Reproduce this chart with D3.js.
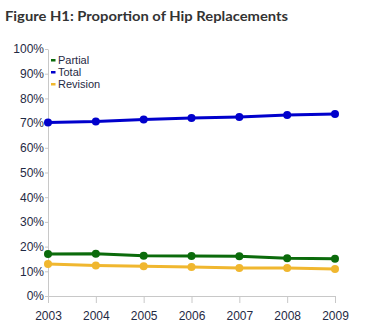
<!DOCTYPE html>
<html><head><meta charset="utf-8">
<script src="https://cdn.jsdelivr.net/npm/d3@7"></script>
<style>body{margin:0;background:#fff}svg{display:block}</style>
</head><body>
<svg id="c" width="373" height="336"></svg>
<script>
const years = ["2003","2004","2005","2006","2007","2008","2009"];
const partial = [17.0,17.1,16.3,16.2,16.1,15.3,15.1];
const total = [70.2,70.6,71.5,72.1,72.5,73.3,73.7];
const revision = [13.0,12.3,12.0,11.7,11.3,11.3,10.9];
const yTicks = [0,10,20,30,40,50,60,70,80,90,100];
const seriesNames = ["Partial","Total","Revision"];
const seriesColors = ["#0b6b0b","#0000cc","#f0b72f"];
const seriesData = [partial,total,revision];

const svg = d3.select("#c");
const x = d3.scalePoint().domain(years).range([48,335]);
const y = d3.scaleLinear().domain([0,100]).range([296,49]);
const font = "'Liberation Sans', Arial, sans-serif";

const title = svg.append("text").attr("x",5).attr("y",21).text("Figure H1: Proportion of Hip Replacements")
  .attr("font-family","Lato, sans-serif").attr("font-weight","bold").attr("font-size",13.5).attr("fill","#333");
const tw = title.node().getComputedTextLength();
if (tw > 0) title.attr("textLength",283).attr("lengthAdjust","spacingAndGlyphs");

// y axis
const ya = svg.append("g").attr("transform","translate(48,0)").call(d3.axisLeft(y).tickValues(yTicks).tickFormat(d=>d+"%").tickSize(3).tickSizeOuter(0));
ya.select(".domain").attr("stroke","#c8c8c8");
ya.selectAll(".tick line").attr("stroke","#c8c8c8");
ya.selectAll("text").attr("font-family",font).attr("font-size",12).attr("fill","#1f2a44").attr("x",-4);

const xa = svg.append("g").attr("transform","translate(0,296)").call(d3.axisBottom(x).tickSize(7).tickSizeOuter(0));
xa.select(".domain").attr("stroke","#c8c8c8");
xa.selectAll(".tick line").attr("stroke","#c8c8c8");
xa.selectAll("text").attr("font-family",font).attr("font-size",12).attr("fill","#1f2a44").attr("y",24).attr("dy",0);

const line = d3.line().x((d,i)=>x(years[i])).y(d=>y(d));
seriesData.forEach((s,k)=>{
  svg.append("path").attr("d",line(s)).attr("fill","none").attr("stroke",seriesColors[k]).attr("stroke-width",3);
  svg.selectAll(null).data(s).enter().append("circle")
    .attr("cx",(d,i)=>x(years[i])).attr("cy",d=>y(d)).attr("r",4).attr("fill",seriesColors[k]);
});

// legend
seriesNames.forEach((n,k)=>{
  const ly = 64 + k*12;
  svg.append("rect").attr("x",51).attr("y",ly-5).attr("width",4.5).attr("height",2.5).attr("fill",seriesColors[k]);
  svg.append("text").attr("x",58).attr("y",ly).text(n).attr("font-family",font).attr("font-size",11).attr("fill","#1f2a44");
});
</script>
</body></html>
